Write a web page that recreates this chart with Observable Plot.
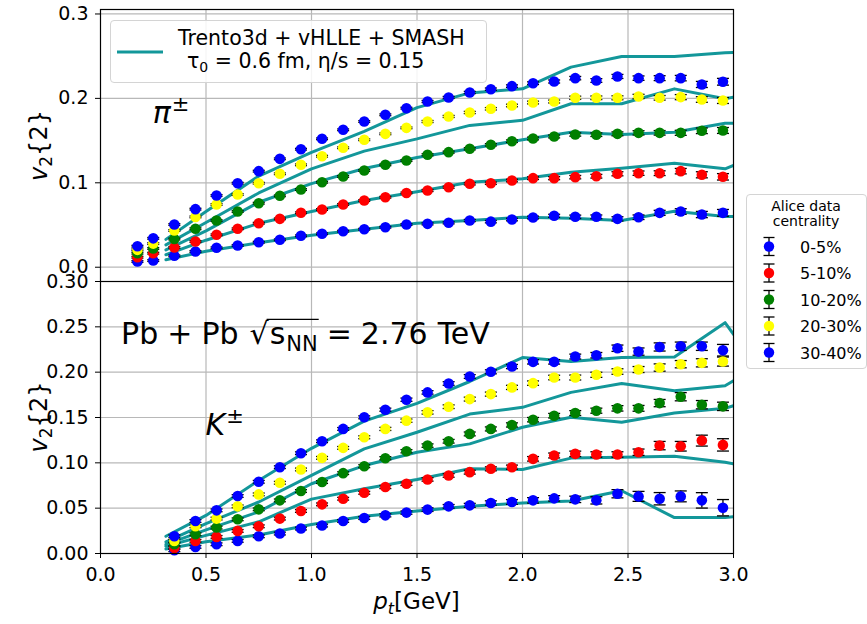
<!DOCTYPE html>
<html><head><meta charset="utf-8">
<script src="https://cdn.jsdelivr.net/npm/d3@7"></script>
<script src="https://cdn.jsdelivr.net/npm/@observablehq/plot@0.6"></script>
<style>
body{margin:0;background:#fff;}
#wrap{position:relative;width:867px;height:624px;font-family:"DejaVu Sans",sans-serif;overflow:hidden;background:#fff;}
#top,#bot{position:absolute;left:0;}
#top{top:0;}
#bot{top:272px;}
.box{position:absolute;border:1px solid #d4d4d4;border-radius:4px;background:rgba(255,255,255,0.85);box-sizing:border-box;}
</style></head><body><div id="wrap"><div id="top"></div><div id="bot"></div>
<div class="box" id="modelLegend" style="left:110px;top:20px;width:377px;height:63px;"></div>
<div class="box" id="dataLegend" style="left:746px;top:194px;width:121px;height:175px;"></div>
</div>
<script>
// ---------- categories ----------
const centralities = ["0-5%", "5-10%", "10-20%", "20-30%", "30-40%"];
const centralityColors = ["#0000ff", "#ff0000", "#008000", "#ffff00", "#0000ff"];
const modelLabel1 = "Trento3d + vHLLE + SMASH";
const legendTitle = ["Alice data", "centrality"];

// ---------- ticks ----------
const xTicks = [0, 0.5, 1.0, 1.5, 2.0, 2.5, 3.0];
const yTicksPi = [0, 0.1, 0.2, 0.3];
const yTicksK = [0, 0.05, 0.10, 0.15, 0.20, 0.25, 0.30];

// ---------- pions: ALICE data ----------
const ptPi = [0.175, 0.25, 0.35, 0.45, 0.55, 0.65, 0.75, 0.85, 0.95, 1.05, 1.15, 1.25, 1.35, 1.45, 1.55, 1.65, 1.75, 1.85, 1.95, 2.05, 2.15, 2.25, 2.35, 2.45, 2.55, 2.65, 2.75, 2.85, 2.95];
const piV2_0_5   = [0.0068, 0.0079, 0.0135, 0.0186, 0.0230, 0.0257, 0.0296, 0.0325, 0.0372, 0.0396, 0.0427, 0.0450, 0.0474, 0.0506, 0.0514, 0.0526, 0.0553, 0.0540, 0.0565, 0.0589, 0.0609, 0.0597, 0.0597, 0.0573, 0.0592, 0.0644, 0.0660, 0.0624, 0.0644];
const piV2_5_10  = [0.0118, 0.0166, 0.0235, 0.0305, 0.0384, 0.0455, 0.0521, 0.0573, 0.0645, 0.0684, 0.0743, 0.0790, 0.0829, 0.0880, 0.0909, 0.0948, 0.0988, 0.0995, 0.1027, 0.1055, 0.1055, 0.1067, 0.1078, 0.1107, 0.1114, 0.1114, 0.1138, 0.1095, 0.1071];
const piV2_10_20 = [0.0166, 0.0222, 0.0334, 0.0456, 0.0553, 0.0660, 0.0758, 0.0846, 0.0920, 0.1007, 0.1075, 0.1146, 0.1213, 0.1264, 0.1332, 0.1363, 0.1403, 0.1450, 0.1493, 0.1525, 0.1549, 0.1572, 0.1570, 0.1580, 0.1592, 0.1592, 0.1592, 0.1616, 0.1620];
const piV2_20_30 = [0.0206, 0.0280, 0.0435, 0.0596, 0.0743, 0.0861, 0.0995, 0.1107, 0.1213, 0.1315, 0.1415, 0.1510, 0.1580, 0.1651, 0.1726, 0.1786, 0.1833, 0.1877, 0.1916, 0.1951, 0.1963, 0.2007, 0.2007, 0.2007, 0.2023, 0.2007, 0.2015, 0.1987, 0.1975];
const piV2_30_40 = [0.0249, 0.0342, 0.0506, 0.0688, 0.0850, 0.0995, 0.1138, 0.1284, 0.1398, 0.1521, 0.1628, 0.1726, 0.1806, 0.1884, 0.1963, 0.2011, 0.2070, 0.2109, 0.2145, 0.2180, 0.2200, 0.2240, 0.2212, 0.2260, 0.2240, 0.2240, 0.2240, 0.2165, 0.2197];
const piErr_0_5   = [0.001, 0.001, 0.001, 0.001, 0.001, 0.001, 0.001, 0.001, 0.001, 0.001, 0.001, 0.001, 0.001, 0.001, 0.0012, 0.0012, 0.0013, 0.0014, 0.0015, 0.0016, 0.0018, 0.002, 0.0022, 0.0025, 0.0027, 0.003, 0.0033, 0.0037, 0.004];
const piErr_5_10  = [0.001, 0.001, 0.001, 0.001, 0.001, 0.001, 0.001, 0.001, 0.001, 0.001, 0.001, 0.001, 0.001, 0.001, 0.0012, 0.0012, 0.0013, 0.0014, 0.0015, 0.0016, 0.0018, 0.002, 0.0022, 0.0024, 0.0026, 0.0028, 0.0032, 0.0036, 0.0038];
const piErr_10_20 = [0.001, 0.001, 0.001, 0.001, 0.001, 0.001, 0.001, 0.001, 0.001, 0.001, 0.001, 0.001, 0.001, 0.001, 0.0012, 0.0012, 0.0013, 0.0014, 0.0015, 0.0016, 0.0017, 0.0019, 0.0021, 0.0023, 0.0025, 0.0027, 0.003, 0.0033, 0.0035];
const piErr_20_30 = [0.001, 0.001, 0.001, 0.001, 0.001, 0.001, 0.001, 0.001, 0.001, 0.001, 0.001, 0.001, 0.001, 0.001, 0.0012, 0.0012, 0.0013, 0.0014, 0.0015, 0.0016, 0.0017, 0.0019, 0.0021, 0.0023, 0.0025, 0.0027, 0.003, 0.0033, 0.0035];
const piErr_30_40 = [0.001, 0.001, 0.001, 0.001, 0.001, 0.001, 0.001, 0.001, 0.001, 0.001, 0.001, 0.001, 0.001, 0.001, 0.0012, 0.0012, 0.0013, 0.0014, 0.0015, 0.0016, 0.0018, 0.002, 0.0022, 0.0024, 0.0026, 0.0029, 0.0032, 0.0036, 0.004];

// ---------- kaons: ALICE data ----------
const ptK = [0.35, 0.45, 0.55, 0.65, 0.75, 0.85, 0.95, 1.05, 1.15, 1.25, 1.35, 1.45, 1.55, 1.65, 1.75, 1.85, 1.95, 2.05, 2.15, 2.25, 2.35, 2.45, 2.55, 2.65, 2.75, 2.85, 2.95];
const kV2_0_5   = [0.0036, 0.0073, 0.0102, 0.0139, 0.0190, 0.0220, 0.0275, 0.0308, 0.0359, 0.0392, 0.0421, 0.0451, 0.0484, 0.0520, 0.0531, 0.0557, 0.0568, 0.0586, 0.0608, 0.0597, 0.0586, 0.0659, 0.0630, 0.0604, 0.0630, 0.0586, 0.0505];
const kV2_5_10  = [0.0062, 0.0139, 0.0183, 0.0249, 0.0300, 0.0385, 0.0469, 0.0542, 0.0604, 0.0670, 0.0733, 0.0769, 0.0817, 0.0861, 0.0897, 0.0934, 0.0952, 0.1044, 0.1081, 0.1099, 0.1092, 0.1092, 0.1117, 0.1190, 0.1183, 0.1245, 0.1198];
const kV2_10_20 = [0.0102, 0.0212, 0.0286, 0.0377, 0.0487, 0.0586, 0.0689, 0.0788, 0.0886, 0.0963, 0.1051, 0.1128, 0.1190, 0.1238, 0.1319, 0.1374, 0.1418, 0.1476, 0.1520, 0.1549, 0.1575, 0.1601, 0.1601, 0.1659, 0.1729, 0.1641, 0.1623];
const kV2_20_30 = [0.0139, 0.0300, 0.0385, 0.0520, 0.0652, 0.0780, 0.0927, 0.1055, 0.1165, 0.1282, 0.1374, 0.1465, 0.1557, 0.1619, 0.1703, 0.1758, 0.1832, 0.1879, 0.1941, 0.1941, 0.1971, 0.2007, 0.2029, 0.2051, 0.2088, 0.2103, 0.2117];
const kV2_30_40 = [0.0190, 0.0358, 0.0476, 0.0634, 0.0791, 0.0952, 0.1106, 0.1238, 0.1374, 0.1502, 0.1586, 0.1696, 0.1777, 0.1875, 0.1952, 0.2004, 0.2062, 0.2114, 0.2114, 0.2172, 0.2187, 0.2264, 0.2227, 0.2278, 0.2286, 0.2286, 0.2242];
const kErr_0_5   = [0.0015, 0.0015, 0.0015, 0.0015, 0.0015, 0.0015, 0.0015, 0.0015, 0.0015, 0.0016, 0.0017, 0.0018, 0.002, 0.002, 0.0022, 0.0024, 0.0026, 0.003, 0.003, 0.0035, 0.004, 0.0045, 0.0055, 0.0068, 0.006, 0.0085, 0.009];
const kErr_5_10  = [0.0015, 0.0015, 0.0015, 0.0015, 0.0015, 0.0015, 0.0015, 0.0015, 0.0015, 0.0016, 0.0017, 0.0018, 0.0019, 0.002, 0.0021, 0.0022, 0.0023, 0.0025, 0.0027, 0.003, 0.003, 0.003, 0.0035, 0.0046, 0.0053, 0.006, 0.0068];
const kErr_10_20 = [0.0015, 0.0015, 0.0015, 0.0015, 0.0015, 0.0015, 0.0015, 0.0015, 0.0015, 0.0016, 0.0017, 0.0018, 0.0019, 0.002, 0.0021, 0.0022, 0.0023, 0.0024, 0.0025, 0.0027, 0.0028, 0.003, 0.0032, 0.004, 0.0045, 0.0046, 0.0046];
const kErr_20_30 = [0.0015, 0.0015, 0.0015, 0.0015, 0.0015, 0.0015, 0.0015, 0.0015, 0.0015, 0.0016, 0.0017, 0.0018, 0.0019, 0.002, 0.0021, 0.0022, 0.0023, 0.0024, 0.0025, 0.0027, 0.0028, 0.003, 0.0033, 0.004, 0.004, 0.0045, 0.005];
const kErr_30_40 = [0.0015, 0.0015, 0.0015, 0.0015, 0.0015, 0.0015, 0.0015, 0.0015, 0.0015, 0.0016, 0.0017, 0.0018, 0.0019, 0.002, 0.0021, 0.0022, 0.0023, 0.0024, 0.0025, 0.0027, 0.003, 0.0035, 0.004, 0.0045, 0.0046, 0.0046, 0.0064];

// ---------- model: Trento3d + vHLLE + SMASH ----------
const ptModel = [0.31, 0.5, 0.75, 1.0, 1.25, 1.5, 1.75, 2.0, 2.23, 2.47, 2.72, 2.96, 3.0];
const piModel_0_5   = [0.0088, 0.019, 0.029, 0.038, 0.045, 0.0521, 0.0553, 0.0593, 0.058, 0.0553, 0.0664, 0.060, 0.060];
const piModel_5_10  = [0.0148, 0.032, 0.052, 0.066, 0.079, 0.0895, 0.1007, 0.1047, 0.1126, 0.1173, 0.1232, 0.1166, 0.1205];
const piModel_10_20 = [0.0206, 0.043, 0.077, 0.099, 0.117, 0.130, 0.1403, 0.151, 0.160, 0.1572, 0.160, 0.1706, 0.1706];
const piModel_20_30 = [0.0265, 0.053, 0.088, 0.1165, 0.1375, 0.152, 0.168, 0.174, 0.1936, 0.1936, 0.2113, 0.1995, 0.2014];
const piModel_30_40 = [0.033, 0.066, 0.108, 0.136, 0.161, 0.189, 0.2065, 0.2113, 0.237, 0.2496, 0.2496, 0.254, 0.2545];
const kModel_0_5   = [0.005, 0.013, 0.0205, 0.032, 0.041, 0.047, 0.052, 0.0557, 0.0579, 0.0692, 0.0396, 0.0396, 0.0407];
const kModel_5_10  = [0.008, 0.020, 0.035, 0.060, 0.0714, 0.0817, 0.0934, 0.0927, 0.1052, 0.1062, 0.1073, 0.1007, 0.0989];
const kModel_10_20 = [0.010, 0.026, 0.046, 0.0769, 0.097, 0.1117, 0.1209, 0.1392, 0.1502, 0.1447, 0.155, 0.1601, 0.163];
const kModel_20_30 = [0.0128, 0.033, 0.0568, 0.0861, 0.1154, 0.1337, 0.1538, 0.1612, 0.1777, 0.1875, 0.1795, 0.185, 0.1905];
const kModel_30_40 = [0.019, 0.042, 0.0806, 0.116, 0.146, 0.1656, 0.1897, 0.2161, 0.2117, 0.2161, 0.2168, 0.2546, 0.2418];

// ---------- build tables ----------
const teal = "#13979a";
function dataRows(xs, ysList, esList) {
  const rows = [];
  ysList.forEach((ys, i) => ys.forEach((y, j) => rows.push({x: xs[j], y, e: esList[i][j], color: centralityColors[i], s: i})));
  return rows;
}
function modelRows(xs, ysList) {
  const rows = [];
  ysList.forEach((ys, i) => ys.forEach((y, j) => rows.push({x: xs[j], y, s: i})));
  return rows;
}
const piData = dataRows(ptPi, [piV2_0_5, piV2_5_10, piV2_10_20, piV2_20_30, piV2_30_40], [piErr_0_5, piErr_5_10, piErr_10_20, piErr_20_30, piErr_30_40]);
const kData = dataRows(ptK, [kV2_0_5, kV2_5_10, kV2_10_20, kV2_20_30, kV2_30_40], [kErr_0_5, kErr_5_10, kErr_10_20, kErr_20_30, kErr_30_40]);
const piModel = modelRows(ptModel, [piModel_0_5, piModel_5_10, piModel_10_20, piModel_20_30, piModel_30_40]);
const kModel = modelRows(ptModel, [kModel_0_5, kModel_5_10, kModel_10_20, kModel_20_30, kModel_30_40]);

const capSymbol = {draw(ctx, size) { const w = Math.sqrt(size / Math.PI); ctx.moveTo(-w, 0); ctx.lineTo(w, 0); }};

function panelMarks(data, model, yTicks) {
  return [
    Plot.gridX(xTicks.slice(1, -1), {stroke: "#b8b8b8", strokeOpacity: 1, strokeWidth: 1.2}),
    Plot.gridY(yTicks, {stroke: "#b8b8b8", strokeOpacity: 1, strokeWidth: 1.2}),
    Plot.line(model, {x: "x", y: "y", z: "s", stroke: teal, strokeWidth: 3, clip: true}),
    Plot.ruleX(data, {x: "x", y1: d => d.y - d.e, y2: d => d.y + d.e, stroke: "black", strokeWidth: 1.3}),
    Plot.dot(data, {x: "x", y: d => d.y - d.e, symbol: capSymbol, r: 6, stroke: "black", fill: "none", strokeWidth: 1.3}),
    Plot.dot(data, {x: "x", y: d => d.y + d.e, symbol: capSymbol, r: 6, stroke: "black", fill: "none", strokeWidth: 1.3}),
    Plot.dot(data, {x: "x", y: "y", r: 5.3, fill: "color", stroke: null})
  ];
}

const topPlot = Plot.plot({
  width: 867, height: 282, marginLeft: 100, marginRight: 134, marginTop: 9, marginBottom: 0,
  style: {fontFamily: "DejaVu Sans", fontSize: "19px", background: "transparent", color: "black"},
  x: {domain: [0, 3], axis: null},
  y: {domain: [-0.0181, 0.3053]},
  color: {type: "identity"},
  marks: [
    ...panelMarks(piData, piModel, yTicksPi),
    Plot.axisY(yTicksPi, {tickFormat: d3.format(".1f"), tickSize: 5, tickPadding: 7, label: null}),
    Plot.frame({stroke: "black", strokeWidth: 1.2})
  ]
});
document.getElementById("top").appendChild(topPlot);

const botPlot = Plot.plot({
  width: 867, height: 352, marginLeft: 100, marginRight: 134, marginTop: 9, marginBottom: 71,
  style: {fontFamily: "DejaVu Sans", fontSize: "19px", background: "transparent", color: "black"},
  x: {domain: [0, 3]},
  y: {domain: [0, 0.30]},
  color: {type: "identity"},
  marks: [
    ...panelMarks(kData, kModel, yTicksK),
    Plot.axisY(yTicksK, {tickFormat: d3.format(".2f"), tickSize: 5, tickPadding: 7, label: null}),
    Plot.axisX(xTicks, {tickFormat: d3.format(".1f"), tickSize: 5, tickPadding: 9, label: null}),
    Plot.frame({stroke: "black", strokeWidth: 1.2})
  ]
});
document.getElementById("bot").appendChild(botPlot);

// ---------- rich text helper (sequential pieces measured in the browser) ----------
function rich(svg, x, y, parts) {
  const g = d3.select(svg).append("g").attr("font-family", "DejaVu Sans").attr("fill", "black").attr("text-anchor", "start");
  let cx = x; const boxes = [];
  for (const p of parts) {
    const t = g.append("text").attr("x", cx).attr("y", y + (p.dy || 0)).attr("font-size", p.size).attr("text-anchor", "start").style("white-space", "pre").text(p.t);
    if (p.italic) t.attr("font-style", "italic");
    const w = t.node().getComputedTextLength();
    boxes.push({x0: cx, x1: cx + w});
    cx += w + (p.gap || 0);
  }
  return {g, boxes};
}
function yLabel(svg, cy) {
  d3.select(svg).append("text").attr("transform", `translate(47,${cy}) rotate(-90)`)
    .attr("text-anchor", "middle").attr("font-size", 24).attr("font-family", "DejaVu Sans")
    .call(t => { t.append("tspan").attr("font-style", "italic").text("v"); t.append("tspan").attr("font-size", 17).attr("dy", 5).text("2"); t.append("tspan").attr("dy", -5).text("{2}"); });
}

// panel annotations, placed with each plot's own scales
{
  const sx = topPlot.scale("x"), sy = topPlot.scale("y");
  rich(topPlot, sx.apply(0.25), sy.apply(0.17), [
    {t: "π", size: 30, italic: true, gap: 1},
    {t: "±", size: 21, dy: -12}
  ]);
  yLabel(topPlot, (9 + 282) / 2);
}
{
  const sx = botPlot.scale("x"), sy = botPlot.scale("y");
  rich(botPlot, sx.apply(0.5), sy.apply(0.13), [
    {t: "K", size: 30, italic: true, gap: 1},
    {t: "±", size: 21, dy: -12}
  ]);
  const r = rich(botPlot, sx.apply(0.1), sy.apply(0.23), [
    {t: "Pb", size: 30, gap: 9},
    {t: "+", size: 30, gap: 9},
    {t: "Pb", size: 30, gap: 11},
    {t: "√", size: 30, gap: 1},
    {t: "s", size: 30, gap: 1},
    {t: "NN", size: 21, dy: 7, gap: 9},
    {t: "=", size: 30, gap: 9},
    {t: "2.76", size: 30, gap: 10},
    {t: "TeV", size: 30}
  ]);
  const y0 = sy.apply(0.23) - 25;
  r.g.append("line").attr("x1", r.boxes[3].x1 - 2).attr("x2", r.boxes[5].x1 + 1).attr("y1", y0).attr("y2", y0).attr("stroke", "black").attr("stroke-width", 1.3);
  yLabel(botPlot, 9 + 272 / 2);
  // x label
  const xl = d3.select(botPlot).append("text").attr("x", (100 + 733) / 2).attr("y", 337)
    .attr("text-anchor", "middle").attr("font-size", 23).attr("font-family", "DejaVu Sans");
  xl.append("tspan").attr("font-style", "italic").text("p");
  xl.append("tspan").attr("font-style", "italic").attr("font-size", 16).attr("dy", 5).text("t");
  xl.append("tspan").attr("dy", -5).text("[GeV]");
}

// ---------- model legend ----------
{
  const box = d3.select("#modelLegend");
  const svg = box.append("svg").attr("width", 377).attr("height", 63).style("position", "absolute").style("left", "-1px").style("top", "-1px");
  svg.append("line").attr("x1", 7).attr("x2", 53).attr("y1", 32).attr("y2", 32).attr("stroke", teal).attr("stroke-width", 3);
  svg.append("text").attr("x", 68).attr("y", 25).attr("font-size", 20.5).attr("font-family", "DejaVu Sans").text(modelLabel1);
  const t2 = svg.append("text").attr("x", 77).attr("y", 48).attr("font-size", 20.5).attr("font-family", "DejaVu Sans");
  t2.append("tspan").text("τ");
  t2.append("tspan").attr("font-size", 14).attr("dy", 4).text("0");
  t2.append("tspan").attr("dy", -4).text(" = 0.6 fm, η/s = 0.15");
}

// ---------- data legend ----------
{
  const box = d3.select("#dataLegend");
  const svg = box.append("svg").attr("width", 121).attr("height", 175).style("position", "absolute").style("left", "-1px").style("top", "-1px");
  svg.selectAll("text.title").data(legendTitle).join("text").attr("class", "title")
    .attr("x", 60).attr("y", (d, i) => 17 + i * 15).attr("text-anchor", "middle").attr("font-size", 14).attr("font-family", "DejaVu Sans").text(d => d);
  const g = svg.selectAll("g.e").data(centralities).join("g").attr("class", "e").attr("transform", (d, i) => `translate(23,${52.5 + i * 26.5})`);
  g.append("line").attr("x1", 0).attr("x2", 0).attr("y1", -9).attr("y2", 9).attr("stroke", "black").attr("stroke-width", 1.3);
  g.append("line").attr("x1", -5.5).attr("x2", 5.5).attr("y1", -9).attr("y2", -9).attr("stroke", "black").attr("stroke-width", 1.3);
  g.append("line").attr("x1", -5.5).attr("x2", 5.5).attr("y1", 9).attr("y2", 9).attr("stroke", "black").attr("stroke-width", 1.3);
  g.append("circle").attr("r", 5.2).attr("fill", (d, i) => centralityColors[i]);
  g.append("text").attr("x", 31).attr("y", 6).attr("font-size", 16).attr("font-family", "DejaVu Sans").text(d => d);
}
</script></body></html>
